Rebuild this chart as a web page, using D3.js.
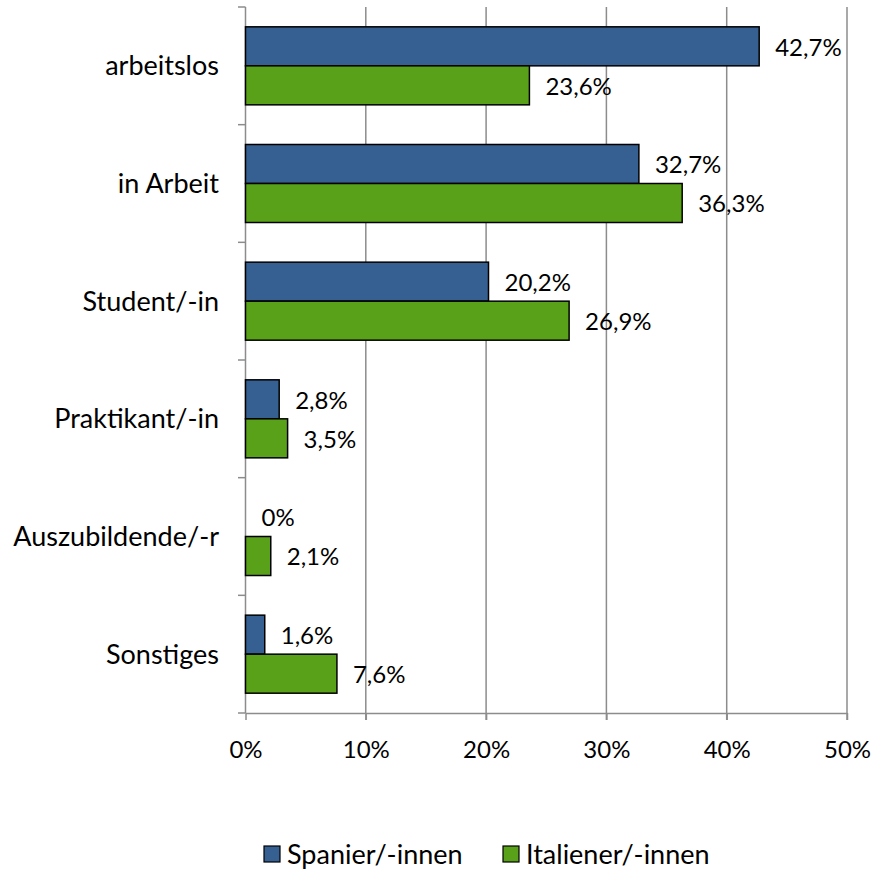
<!DOCTYPE html>
<html><head><meta charset="utf-8">
<script src="https://cdn.jsdelivr.net/npm/d3@7"></script>
<style>body{margin:0;background:#fff}svg{display:block}text{font-family:Lato,"Open Sans",sans-serif;fill:#000}</style>
</head><body>
<script>
const categories = ["arbeitslos","in Arbeit","Student/-in","Praktikant/-in","Auszubildende/-r","Sonstiges"];
const seriesNames = ["Spanier/-innen","Italiener/-innen"];
const spanier = [42.7,32.7,20.2,2.8,0,1.6];
const italiener = [23.6,36.3,26.9,3.5,2.1,7.6];
const xTicks = [0,10,20,30,40,50];
const colors = ["#376092","#5AA11A"];

const W=874,H=869;
const svg=d3.select("body").append("svg").attr("width",W).attr("height",H);
const x=d3.scaleLinear().domain([0,50]).range([245.5,847]);
const y=d3.scaleBand().domain(categories).range([7,713]).paddingInner(0.337).paddingOuter(0.1685);
const ySub=d3.scaleBand().domain(seriesNames).range([0,y.bandwidth()]);
const fmt=v=>(v===0?"0":d3.format(".1f")(v).replace(".",","))+"%";

// gridlines
svg.append("g").selectAll("line").data(xTicks.slice(1)).join("line")
 .attr("x1",d=>x(d)).attr("x2",d=>x(d)).attr("y1",7).attr("y2",720)
 .attr("stroke","#8c8c8c").attr("stroke-width",1.5);

// x axis
const xa=svg.append("g").attr("transform","translate(0,713)")
 .call(d3.axisBottom(x).tickValues(xTicks).tickFormat(d=>d+"%").tickSize(7).tickSizeOuter(0));
xa.select(".domain").attr("stroke","#8c8c8c").attr("stroke-width",1.5);
xa.selectAll(".tick line").attr("stroke","#8c8c8c").attr("stroke-width",1.5);
xa.selectAll(".tick text").attr("font-size",24).attr("dy","0.35em").attr("y",37).style("font-family","Lato,sans-serif");

// y axis
const bounds=d3.range(categories.length+1).map(i=>7+i*(706/categories.length));
svg.append("line").attr("x1",245.5).attr("x2",245.5).attr("y1",7).attr("y2",713).attr("stroke","#8c8c8c").attr("stroke-width",1.5);
svg.append("g").selectAll("line").data(bounds).join("line")
 .attr("x1",238).attr("x2",245.5).attr("y1",d=>d).attr("y2",d=>d).attr("stroke","#8c8c8c").attr("stroke-width",1.5);
svg.append("g").selectAll("text").data(categories).join("text")
 .attr("x",219).attr("y",d=>y(d)+y.bandwidth()/2).attr("dy","0.35em").attr("text-anchor","end")
 .attr("font-size",27).text(d=>d);

// bars
const series=[spanier,italiener];
series.forEach((vals,si)=>{
  const g=svg.append("g");
  categories.forEach((c,i)=>{
    const v=vals[i];
    const y0=y(c)+ySub(seriesNames[si]);
    if(v>0){
      g.append("rect").attr("x",x(0)).attr("y",y0).attr("width",x(v)-x(0)).attr("height",ySub.bandwidth())
       .attr("fill",colors[si]).attr("stroke","#000").attr("stroke-width",1.5);
    }
    g.append("text").attr("x",x(v)+16).attr("y",y0+ySub.bandwidth()/2+1).attr("dy","0.35em")
     .attr("font-size",24).text(fmt(v));
  });
});

// legend
const leg=svg.append("g");
const lx=[264,503];
seriesNames.forEach((n,i)=>{
  leg.append("rect").attr("x",lx[i]).attr("y",846).attr("width",16).attr("height",16)
   .attr("fill",colors[i]).attr("stroke","#000").attr("stroke-width",1.2);
  leg.append("text").attr("x",lx[i]+23).attr("y",855).attr("dy","0.35em").attr("font-size",27).text(n);
});
</script>
</body></html>
